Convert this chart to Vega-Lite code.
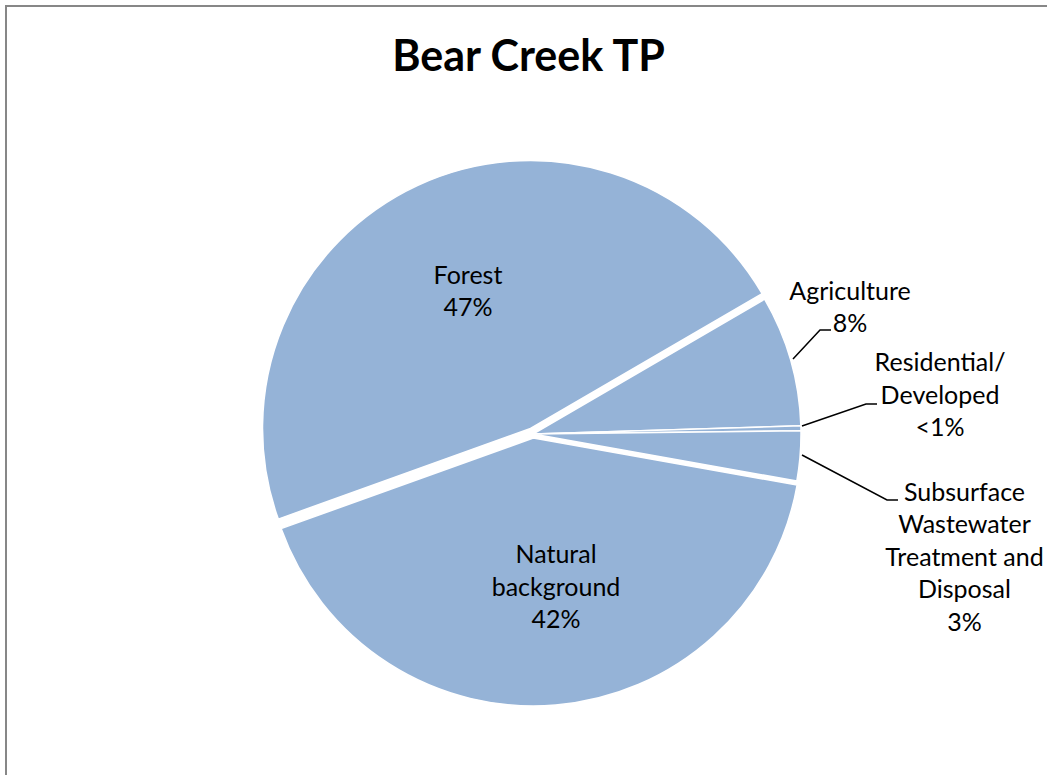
{
  "$schema": "https://vega.github.io/schema/vega-lite/v6.json",
  "autosize": {"type": "none"},
  "padding": {"left": 6, "top": 6, "right": -4, "bottom": -4},
  "width": 1045,
  "height": 773,
  "background": "white",
  "config": {
    "view": {"stroke": "#878787", "strokeWidth": 2},
    "font": "Lato"
  },
  "title": {
    "text": "Bear Creek TP",
    "font": "Lato",
    "fontSize": 43,
    "fontWeight": "bold",
    "color": "#000000",
    "anchor": "middle",
    "baseline": "alphabetic",
    "offset": -108
  },
  "datasets": {
    "slices": [
      {"source": "Agriculture", "start": 0, "end": 7.9, "cx": 0, "cy": 0},
      {"source": "Residential/Developed", "start": 7.9, "end": 8.2, "cx": 0, "cy": 0},
      {"source": "Subsurface Wastewater Treatment and Disposal", "start": 8.2, "end": 11.2, "cx": 0, "cy": 0},
      {"source": "Natural background", "start": 11.2, "end": 52.9, "cx": 0.0011, "cy": -0.0149},
      {"source": "Forest", "start": 52.9, "end": 100, "cx": -0.0093, "cy": 0.0205}
    ],
    "leaders": [
      {"source": "Agriculture", "pt": 1, "u": 0.9701, "v": 0.2799},
      {"source": "Agriculture", "pt": 2, "u": 1.0709, "v": 0.3881},
      {"source": "Agriculture", "pt": 3, "u": 1.1119, "v": 0.3881},
      {"source": "Residential/Developed", "pt": 1, "u": 1.0037, "v": 0.0299},
      {"source": "Residential/Developed", "pt": 2, "u": 1.2425, "v": 0.1119},
      {"source": "Residential/Developed", "pt": 3, "u": 1.2836, "v": 0.1119},
      {"source": "Subsurface", "pt": 1, "u": 1.0037, "v": -0.0784},
      {"source": "Subsurface", "pt": 2, "u": 1.3209, "v": -0.2463},
      {"source": "Subsurface", "pt": 3, "u": 1.3619, "v": -0.2463}
    ],
    "labels": [
      {"label": "Forest\n47%", "u": -0.2425, "v": 0.5896},
      {"label": "Natural\nbackground\n42%", "u": 0.0858, "v": -0.4515},
      {"label": "Agriculture\n8%", "u": 1.183, "v": 0.5299},
      {"label": "Residential/\nDeveloped\n<1%", "u": 1.5187, "v": 0.2649},
      {"label": "Subsurface\nWastewater\nTreatment and\nDisposal\n3%", "u": 1.61, "v": -0.2201}
    ]
  },
  "layer": [
    {
      "data": {"name": "slices"},
      "mark": {"type": "arc", "outerRadius": 268, "fill": "#95B3D7", "stroke": "#ffffff", "strokeWidth": 1.5},
      "encoding": {
        "theta": {"field": "start", "type": "quantitative", "scale": {"domain": [0, 100], "range": [1.0437, 7.3269]}},
        "theta2": {"field": "end"},
        "x": {"field": "cx", "type": "quantitative", "scale": {"domain": [-1.9664, 1.9328], "nice": false, "zero": false}, "axis": null},
        "y": {"field": "cy", "type": "quantitative", "scale": {"domain": [-1.2873, 1.597], "nice": false, "zero": false}, "axis": null}
      }
    },
    {
      "data": {"name": "leaders"},
      "mark": {"type": "line", "color": "#000000", "strokeWidth": 1.5},
      "encoding": {
        "x": {"field": "u", "type": "quantitative"},
        "y": {"field": "v", "type": "quantitative"},
        "detail": {"field": "source"},
        "order": {"field": "pt", "type": "quantitative"}
      }
    },
    {
      "data": {"name": "labels"},
      "mark": {"type": "text", "font": "Lato", "fontSize": 25, "lineBreak": "\n", "lineHeight": 32.5, "align": "center", "baseline": "middle", "color": "#000000"},
      "encoding": {
        "x": {"field": "u", "type": "quantitative"},
        "y": {"field": "v", "type": "quantitative"},
        "text": {"field": "label"}
      }
    }
  ]
}
